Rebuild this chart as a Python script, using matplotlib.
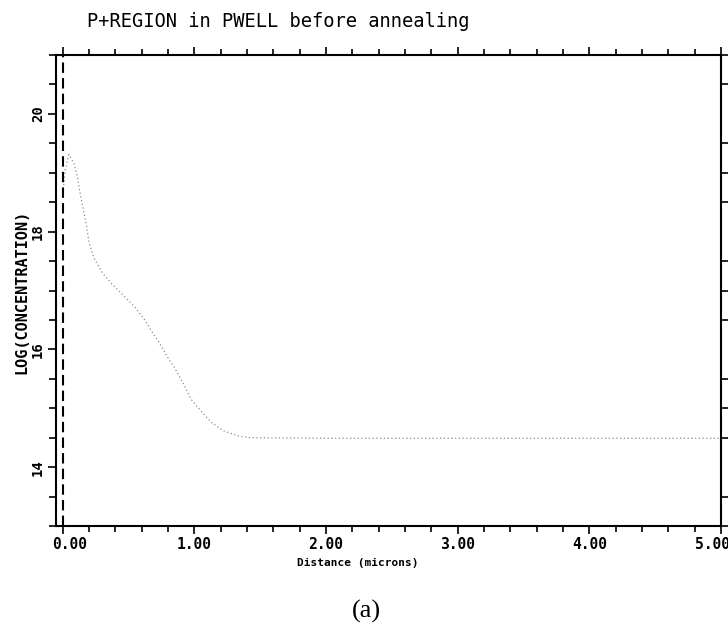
#!/usr/bin/env python3
import matplotlib
matplotlib.use('Agg')
import matplotlib.pyplot as plt
import matplotlib.transforms as mtransforms
from matplotlib.ticker import MultipleLocator, FormatStrFormatter

# profile: depth in microns, log10 concentration
depth = [0.0, 0.02, 0.048, 0.086, 0.112, 0.137, 0.158, 0.183, 0.201, 0.239,
         0.303, 0.366, 0.468, 0.544, 0.621, 0.685, 0.735, 0.799, 0.850, 0.914,
         0.977, 1.053, 1.130, 1.219, 1.333, 1.420, 2.0, 3.0, 4.0, 5.0]
log_conc = [18.6, 19.05, 19.31, 19.16, 18.94, 18.60, 18.37, 18.09, 17.81, 17.55,
            17.30, 17.13, 16.90, 16.73, 16.51, 16.28, 16.11, 15.86, 15.69, 15.43,
            15.15, 14.95, 14.76, 14.62, 14.53, 14.50, 14.49, 14.49, 14.49, 14.49]

# surface marker
surface_x = 0.0

mono = 'DejaVu Sans Mono'

fig = plt.figure(figsize=(7.28, 6.25), dpi=100)
ax = fig.add_axes([0.0769, 0.1584, 0.9135, 0.7536])

ax.plot(depth, log_conc, color='#8c8c8c', linestyle=(0, (1, 2)), linewidth=0.9)
ax.axvline(surface_x, color='black', linestyle=(0, (5, 2.5)), linewidth=1.5)

ax.set_xlim(-0.05, 5.0)
ax.set_ylim(13, 21)

ax.xaxis.set_major_locator(MultipleLocator(1.0))
ax.xaxis.set_minor_locator(MultipleLocator(0.2))
ax.yaxis.set_major_locator(MultipleLocator(2.0))
ax.yaxis.set_minor_locator(MultipleLocator(0.5))
ax.xaxis.set_major_formatter(FormatStrFormatter('%.2f'))
ax.yaxis.set_major_formatter(FormatStrFormatter('%d'))

for s in ax.spines.values():
    s.set_linewidth(1.5)

ax.tick_params(which='both', direction='out', top=True, right=True, width=1.2)
ax.tick_params(which='major', length=6)
ax.tick_params(which='minor', length=4)
ax.tick_params(axis='y', which='major', right=False)
ax.tick_params(axis='y', which='minor', right=True, length=5)
ax.tick_params(axis='x', labelsize=10.5, pad=2)
ax.tick_params(axis='y', labelsize=10, pad=2)

fig.canvas.draw()
for lab in ax.get_xticklabels():
    lab.set_fontfamily(mono)
    lab.set_fontweight('bold')
for lab in ax.get_yticklabels():
    lab.set_fontfamily(mono)
    lab.set_fontweight('bold')
    lab.set_rotation(90)
    lab.set_verticalalignment('center')

# first and last x labels sit nudged inwards in the original
shift = {'0.00': 7, '5.00': -9}
for tick in ax.xaxis.get_major_ticks():
    lab = tick.label1
    dx = shift.get(lab.get_text())
    if dx:
        lab.set_transform(lab.get_transform() +
                          mtransforms.ScaledTranslation(dx / 100, 0, fig.dpi_scale_trans))

fig.text(0.382, 0.957, 'P+REGION in PWELL before annealing', family=mono,
         fontsize=13.5, ha='center', va='baseline')
fig.text(0.492, 0.099, 'Distance (microns)', family=mono, fontsize=8,
         fontweight='bold', ha='center', va='center')
fig.text(0.030, 0.533, 'LOG(CONCENTRATION)', family=mono, fontsize=11,
         fontweight='bold', ha='center', va='center', rotation=90)
fig.text(0.503, 0.021, '(a)', family='Liberation Serif', fontsize=19,
         ha='center', va='center')

plt.savefig('out.png', dpi=100)
